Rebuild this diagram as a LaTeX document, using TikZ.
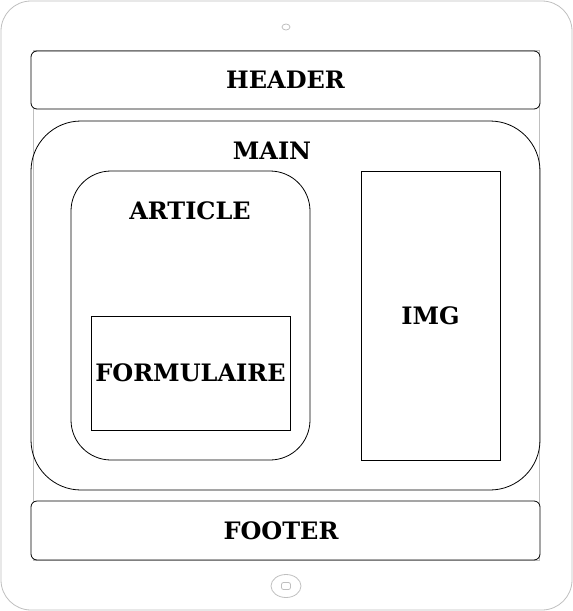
\documentclass[tikz,border=0pt]{standalone}
\usepackage{fontspec}
\setmainfont{DejaVu Serif}
\usetikzlibrary{positioning, shapes.geometric}

\begin{document}
\begin{tikzpicture}[
  x=1pt, y=-1pt,
  frame/.style = {draw=black!25, line width=0.8pt},
  zone/.style = {draw, line width=0.8pt, inner sep=0pt, outer sep=0pt},
  label/.style = {font=\fontsize{24}{26}\selectfont\bfseries, inner sep=0pt}
  ]

  \useasboundingbox (0,0) rectangle (573,611);

    % tablet
  \draw[frame, rounded corners=30pt] (1,1) rectangle (572,610);
  \draw[frame] (33,50) rectangle (539,560);
  \node[frame, ellipse, minimum width=8pt, minimum height=6pt, inner sep=0pt] (camera) at (286,27) {};
  \node[frame, ellipse, minimum width=30pt, minimum height=23pt, inner sep=0pt] (home) at (286,586) {};
  \node[frame, rounded corners=2pt, minimum width=9pt, minimum height=7pt, inner sep=0pt] (homekey) at (home.center) {};

    % page zones
  \node[zone, fill=white, rounded corners=6pt, minimum width=509pt, minimum height=58pt] (header) at (285.5,80) {};
  \node[zone, fill=white, rounded corners=6pt, minimum width=509pt, minimum height=59pt] (footer) at (285.5,530.5) {};
  \node[zone, rounded corners=50pt, minimum width=509pt, minimum height=369pt] (main) at (285.5,305.5) {};
  \node[zone, rounded corners=40pt, minimum width=239pt, minimum height=289pt] (article) at (190.5,315.5) {};
  \node[zone, minimum width=199pt, minimum height=114pt] (form) at (190.5,373) {};
  \node[zone, minimum width=139pt, minimum height=289pt] (img) at (430.5,315.5) {};

    % labels
  \node[label] (headertxt) at (header.center) {HEADER};
  \node[label] (footertxt) at (281,531) {FOOTER};
  \node[label] (maintxt) at (272,151) {MAIN};
  \node[label] (articletxt) at (190,211) {ARTICLE};
  \node[label] (formtxt) at (form.center) {FORMULAIRE};
  \node[label] (imgtxt) at (img.center) {IMG};

\end{tikzpicture}
\end{document}
